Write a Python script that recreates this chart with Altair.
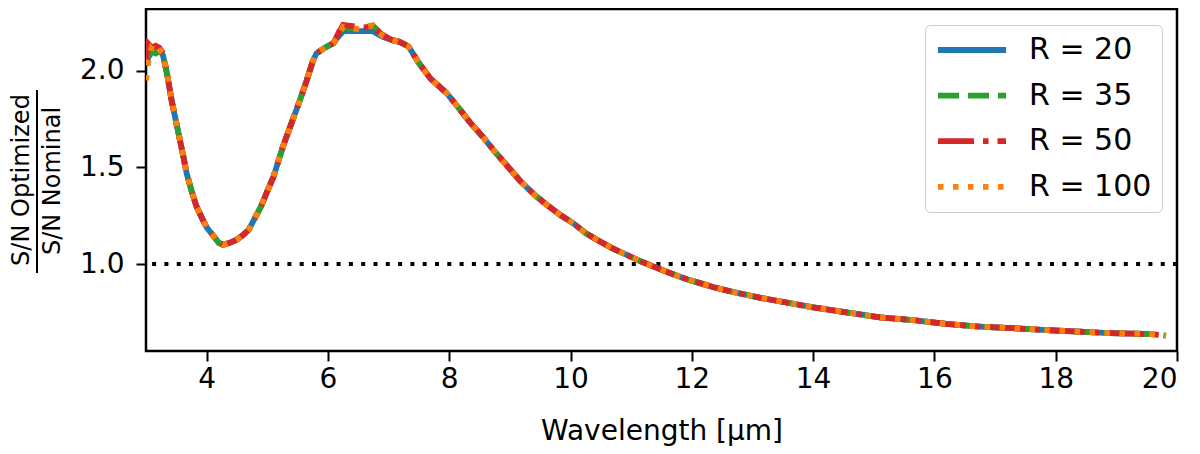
import altair as alt
import pandas as pd

# -----------------------------
# DATA
# -----------------------------
series_names = ["R = 20", "R = 35", "R = 50", "R = 100"]
series_colors = ["#1f77b4", "#2ca02c", "#d62728", "#ff7f0e"]
series_dashes = [[1, 0], [21, 9], [36, 9, 5.5, 9], [5.5, 9.5]]

# noisy start of each curve
wl_start = [3.00, 3.04, 3.10, 3.16, 3.22, 3.28]
start_r20 = [2.03, 2.07, 2.10, 2.11, 2.11, 2.08]
start_r35 = [2.05, 2.08, 2.10, 2.09, 2.10, 2.08]
start_r50 = [2.06, 2.14, 2.12, 2.13, 2.12, 2.09]
start_r100 = [1.95, 2.05, 2.13, 2.14, 2.11, 2.09]

# shared dip and rise
wl_dip = [3.35, 3.42, 3.50, 3.56, 3.62, 3.67, 3.75, 3.83, 3.92, 4.00,
          4.10, 4.20, 4.27, 4.38, 4.49, 4.60, 4.69, 4.80, 4.90, 4.99,
          5.10, 5.20, 5.26, 5.40, 5.54, 5.65, 5.75, 5.81, 5.95, 6.09]
ratio_dip = [1.98, 1.85, 1.73, 1.64, 1.55, 1.47, 1.38, 1.30, 1.24, 1.19,
             1.15, 1.11, 1.10, 1.11, 1.125, 1.15, 1.176, 1.24, 1.30, 1.37,
             1.45, 1.55, 1.61, 1.73, 1.85, 1.95, 2.05, 2.09, 2.12, 2.143]

# peak, slightly different per resolution
wl_peak = [6.18, 6.25, 6.40, 6.52, 6.62, 6.74, 6.82, 6.91]
peak_r20 = [2.18, 2.205, 2.205, 2.205, 2.205, 2.205, 2.19, 2.175]
peak_r35 = [2.19, 2.225, 2.22, 2.215, 2.225, 2.235, 2.21, 2.18]
peak_r50 = [2.20, 2.238, 2.232, 2.228, 2.225, 2.23, 2.205, 2.185]
peak_r100 = [2.19, 2.228, 2.22, 2.215, 2.225, 2.235, 2.205, 2.18]

# shared decline
wl_tail = [7.05, 7.18, 7.33, 7.50, 7.69, 7.96, 8.15, 8.35, 8.55, 8.73,
           8.95, 9.17, 9.40, 9.61, 9.85, 10.05, 10.25, 10.49, 10.70, 10.93,
           11.15, 11.37, 11.65, 11.92, 12.15, 12.36, 12.65, 12.91, 13.15, 13.40,
           14.00, 14.55, 15.10, 15.65, 16.20, 16.75, 17.30, 17.85, 18.39, 18.94,
           19.55]
ratio_tail = [2.16, 2.15, 2.126, 2.04, 1.96, 1.884, 1.81, 1.73, 1.66, 1.59,
              1.51, 1.43, 1.36, 1.306, 1.25, 1.21, 1.16, 1.116, 1.08, 1.047,
              1.015, 0.987, 0.952, 0.921, 0.90, 0.88, 0.858, 0.84, 0.824, 0.81,
              0.776, 0.75, 0.724, 0.71, 0.69, 0.676, 0.668, 0.658, 0.65, 0.642,
              0.638]

# the higher resolutions run a little further
wl_end = [19.82]
end_r20 = []
end_rest = [0.63]

starts = [start_r20, start_r35, start_r50, start_r100]
peaks = [peak_r20, peak_r35, peak_r50, peak_r100]
ends = [end_r20, end_rest, end_rest, end_rest]

rows = []
for name, st, pk, en in zip(series_names, starts, peaks, ends):
    wl = wl_start + wl_dip + wl_peak + wl_tail + wl_end[:len(en)]
    val = st + ratio_dip + pk + ratio_tail + en
    for i, (w, v) in enumerate(zip(wl, val)):
        rows.append({"series": name, "wavelength": w, "ratio": v, "order": i})
df = pd.DataFrame(rows)

FONT = "DejaVu Sans"

x_enc = alt.X("wavelength:Q",
              scale=alt.Scale(domain=[3, 20], nice=False),
              axis=alt.Axis(title="Wavelength [μm]", values=list(range(4, 21, 2)),
                            format="d", labelPadding=4, titlePadding=24))
y_enc = alt.Y("ratio:Q",
              scale=alt.Scale(domain=[0.55, 2.32], nice=False, zero=False),
              axis=alt.Axis(title=None, values=[1.0, 1.5, 2.0], format=".1f",
                            labelPadding=12))
color_enc = alt.Color("series:N",
                      scale=alt.Scale(domain=series_names, range=series_colors),
                      legend=alt.Legend(title=None, orient="none",
                                        legendX=779, legendY=16))
dash_enc = alt.StrokeDash("series:N",
                          scale=alt.Scale(domain=series_names, range=series_dashes),
                          legend=alt.Legend(title=None, orient="none",
                                            legendX=779, legendY=16))

base = alt.Chart(df).mark_line(strokeWidth=5.8, strokeCap="butt", clip=True).encode(
    x=x_enc, y=y_enc, color=color_enc, strokeDash=dash_enc, order="order:Q"
)
lines = [base.transform_filter(alt.datum.series == s) for s in series_names]

unity = alt.Chart(pd.DataFrame({"level": [1.0]})).mark_rule(
    color="black", strokeWidth=4, strokeDash=[4, 8.3]
).encode(y="level:Q")

# y-axis title drawn as a fraction
num = alt.Chart(pd.DataFrame({"t": ["S/N Optimized"]})).mark_text(
    angle=270, font=FONT, fontSize=24, align="center", baseline="middle", color="black"
).encode(text="t:N", x=alt.value(-124), y=alt.value(171))
den = alt.Chart(pd.DataFrame({"t": ["S/N Nominal"]})).mark_text(
    angle=270, font=FONT, fontSize=24, align="center", baseline="middle", color="black"
).encode(text="t:N", x=alt.value(-93), y=alt.value(172))
bar = alt.Chart(pd.DataFrame({"t": [0]})).mark_rule(color="black", strokeWidth=2).encode(
    x=alt.value(-109), y=alt.value(81), y2=alt.value(264)
)

chart = alt.layer(unity, *lines, num, den, bar).properties(
    width=1031, height=342,
    autosize=alt.AutoSizeParams(type="none"),
    padding={"left": 138, "top": 1, "right": 15, "bottom": 100},
).configure_view(
    stroke="black", strokeWidth=2.5
).configure_axis(
    labelFont=FONT, titleFont=FONT, labelFontSize=28, titleFontSize=28,
    labelColor="black", titleColor="black", titleFontWeight="normal",
    tickColor="black", tickWidth=2, tickSize=10, grid=False, domain=False
).configure_legend(
    labelFont=FONT, labelFontSize=30, labelColor="black", labelLimit=300,
    symbolType="stroke", symbolSize=4624, symbolStrokeWidth=5.8,
    clipHeight=30, labelOffset=20, rowPadding=15.6, padding=10,
    fillColor="rgba(255,255,255,0.8)", strokeColor="#cccccc", cornerRadius=5
)

chart.save("out.html", embed_options={"renderer": "svg", "actions": False})
